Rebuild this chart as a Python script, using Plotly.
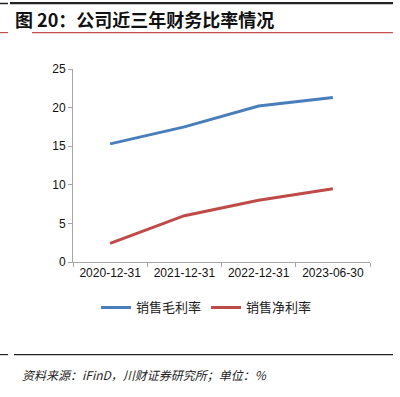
import plotly.graph_objects as go

categories = ["2020-12-31", "2021-12-31", "2022-12-31", "2023-06-30"]
gross_margin = [15.3, 17.5, 20.2, 21.3]
net_margin = [2.4, 6.0, 8.0, 9.5]
series_names = ["销售毛利率", "销售净利率"]
title_text = "图 20：公司近三年财务比率情况"
source_text = "资料来源：iFinD，川财证券研究所；单位：%"

W, H = 400, 397
L, R, T, B = 73, 370, 69.3, 261.7


def px(x):
    return (x - L) / (R - L)


def py(y):
    return (B - y) / (B - T)


fig = go.Figure()
fig.add_trace(go.Scatter(x=categories, y=gross_margin, mode="lines", name=series_names[0],
                         line=dict(color="#4A7EBB", width=3)))
fig.add_trace(go.Scatter(x=categories, y=net_margin, mode="lines", name=series_names[1],
                         line=dict(color="#BE4B48", width=3)))

fig.update_layout(
    width=W, height=H,
    margin=dict(l=L, r=W - R, t=T, b=H - B, pad=0),
    paper_bgcolor="white", plot_bgcolor="white",
    font=dict(family="Liberation Sans, Arial, sans-serif", size=12, color="#222222"),
    xaxis=dict(type="category", range=[-0.5, 3.5], showgrid=False, showline=True,
               linecolor="#A6A6A6", linewidth=1, ticks="outside", tickson="boundaries",
               ticklen=4, tickcolor="#A6A6A6", tickfont=dict(size=12, color="#111111")),
    yaxis=dict(range=[0, 25], dtick=5, showgrid=False, showline=True, linecolor="#A6A6A6",
               linewidth=1, ticks="outside", ticklen=4, tickcolor="#A6A6A6",
               tickfont=dict(size=12, color="#111111"), zeroline=False),
    showlegend=True,
    legend=dict(orientation="h", x=px(96), xanchor="left", y=py(307), yanchor="middle",
                font=dict(family="Noto Sans CJK SC", size=13, color="#222222"),
                itemwidth=30, tracegroupgap=0, bgcolor="rgba(0,0,0,0)"),
)

shapes = [
    dict(type="line", xref="paper", yref="paper", x0=px(0), x1=px(8), y0=py(4), y1=py(4),
         line=dict(color="#222222", width=1.5)),
    dict(type="line", xref="paper", yref="paper", x0=px(10), x1=px(393), y0=py(4), y1=py(4),
         line=dict(color="#222222", width=1.5)),
    dict(type="line", xref="paper", yref="paper", x0=px(0), x1=px(8), y0=py(33), y1=py(33),
         line=dict(color="#C0504D", width=1.2)),
    dict(type="line", xref="paper", yref="paper", x0=px(32), x1=px(393), y0=py(33), y1=py(33),
         line=dict(color="#C0504D", width=1.2)),
    dict(type="line", xref="paper", yref="paper", x0=px(0), x1=px(8), y0=py(354), y1=py(354),
         line=dict(color="#222222", width=1.2)),
    dict(type="line", xref="paper", yref="paper", x0=px(14), x1=px(393), y0=py(354), y1=py(354),
         line=dict(color="#222222", width=1.2)),
]
fig.update_layout(shapes=shapes)

# top rule drawn also as a thin filled annotation box
fig.add_annotation(text=" ", xref="paper", yref="paper", x=px(10), y=py(4),
                   xanchor="left", yanchor="middle", showarrow=False, width=383, height=2,
                   bgcolor="#222222", borderpad=0, borderwidth=0, font=dict(size=1))

fig.add_annotation(text="<b>" + title_text + "</b>", xref="paper", yref="paper",
                   x=px(13), y=py(19), xanchor="left", yanchor="middle", showarrow=False,
                   font=dict(family="Noto Sans CJK SC", size=18, color="#111111"))
fig.add_annotation(text="<i>" + source_text + "</i>", xref="paper", yref="paper",
                   x=px(20), y=py(374), xanchor="left", yanchor="middle", showarrow=False,
                   font=dict(family="Noto Sans CJK SC", size=12, color="#222222"))

fig.write_html("out.html", config={"displayModeBar": False},
               post_script="document.body.style.margin='0px';")
